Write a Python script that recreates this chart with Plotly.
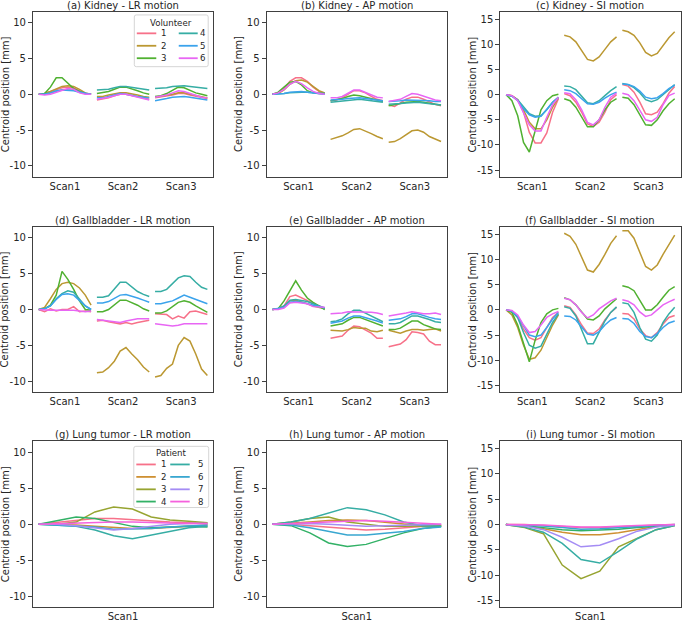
import plotly.graph_objects as go
from plotly.subplots import make_subplots

W, H = 682, 622

volunteers = ['1', '2', '3', '4', '5', '6']
patients = ['1', '2', '3', '4', '5', '6', '7', '8']
scans = ['Scan1', 'Scan2', 'Scan3']
phases = list(range(10))

colors6 = ['#f77189', '#bb9832', '#50b131', '#36ada4', '#3ba3ec', '#e866f4']
colors8 = ['#f77189', '#ce9032', '#97a431', '#32b166', '#36ada4', '#39a7d0', '#a48cf4', '#f561dd']

#%% volunteers: 3 scans x 10 phases per volunteer
kidney_lr = [
	[0, 0.1, 0.4, 0.7, 0.9, 1.0, 0.9, 0.5, 0.1, 0.0,
	 -0.8, -0.7, -0.5, -0.2, 0.0, 0.0, -0.2, -0.4, -0.6, -0.7,
	 -0.5, -0.4, -0.3, -0.1, 0.1, 0.1, -0.1, -0.3, -0.5, -0.6],
	[0, 0.1, 0.4, 0.8, 1.1, 1.2, 1.1, 0.7, 0.2, 0.0,
	 -0.3, -0.3, -0.1, 0.1, 0.2, 0.2, 0.1, -0.1, -0.3, -0.4,
	 -0.4, -0.3, -0.2, 0.0, 0.2, 0.2, 0.0, -0.2, -0.4, -0.5],
	[0, 0.1, 1.0, 2.3, 2.3, 1.5, 0.8, 0.4, 0.1, 0.0,
	 0.1, 0.2, 0.4, 0.7, 1.0, 1.0, 0.8, 0.5, 0.2, 0.0,
	 -0.3, -0.2, 0.1, 0.6, 1.0, 0.9, 0.5, 0.2, 0.0, -0.2],
	[0, 0.0, 0.2, 0.4, 0.6, 0.6, 0.6, 0.4, 0.1, 0.0,
	 0.6, 0.6, 0.7, 0.9, 1.1, 1.1, 1.0, 0.8, 0.7, 0.6,
	 0.8, 0.8, 0.9, 1.1, 1.2, 1.2, 1.1, 1.0, 0.9, 0.8],
	[0, 0.0, 0.2, 0.5, 0.6, 0.6, 0.5, 0.3, 0.1, 0.0,
	 -0.5, -0.5, -0.3, -0.1, 0.1, 0.0, -0.2, -0.3, -0.4, -0.5,
	 -0.9, -0.8, -0.6, -0.4, -0.3, -0.3, -0.4, -0.5, -0.7, -0.8],
	[0, -0.1, 0.0, 0.3, 0.6, 0.8, 0.7, 0.2, 0.0, 0.0,
	 -0.7, -0.6, -0.4, -0.2, 0.0, 0.0, -0.2, -0.4, -0.6, -0.8,
	 -0.4, -0.3, -0.1, 0.2, 0.5, 0.4, 0.1, -0.2, -0.4, -0.5],
]

kidney_ap = [
	[0, 0.2, 0.8, 1.8, 2.3, 2.3, 1.8, 1.0, 0.4, 0.1,
	 -0.9, -0.8, -0.5, 0.0, 0.5, 0.5, 0.2, -0.3, -0.7, -0.9,
	 -1.5, -1.7, -1.2, -0.7, -0.4, -0.4, -0.7, -1.1, -1.4, -1.6],
	[0, 0.1, 0.6, 1.4, 1.9, 2.0, 1.7, 1.1, 0.5, 0.2,
	 -6.3, -6.1, -5.8, -5.4, -4.9, -4.8, -5.1, -5.5, -5.9, -6.2,
	 -6.7, -6.6, -6.2, -5.7, -5.1, -5.0, -5.3, -5.9, -6.3, -6.6],
	[0, 0.3, 1.0, 1.7, 1.8, 1.3, 0.5, 0.2, 0.1, 0.1,
	 -0.9, -0.8, -0.6, -0.3, -0.1, -0.2, -0.4, -0.6, -0.8, -1.0,
	 -1.6, -1.5, -1.3, -1.1, -1.0, -1.0, -1.1, -1.3, -1.4, -1.5],
	[0, 0.0, 0.1, 0.2, 0.3, 0.3, 0.3, 0.2, 0.1, 0.1,
	 -1.1, -1.0, -0.9, -0.8, -0.7, -0.7, -0.8, -0.9, -1.0, -1.1,
	 -1.4, -1.4, -1.3, -1.2, -1.1, -1.1, -1.2, -1.3, -1.4, -1.5],
	[0, 0.0, 0.1, 0.3, 0.4, 0.4, 0.3, 0.2, 0.1, 0.0,
	 -0.8, -0.8, -0.7, -0.6, -0.5, -0.5, -0.6, -0.7, -0.8, -0.9,
	 -1.0, -1.0, -0.9, -0.8, -0.8, -0.8, -0.8, -0.9, -1.0, -1.0],
	[0, 0.2, 0.7, 1.4, 1.8, 1.5, 0.9, 0.4, 0.1, 0.0,
	 -0.5, -0.5, -0.3, 0.2, 0.6, 0.6, 0.3, -0.1, -0.4, -0.5,
	 -1.0, -0.9, -0.7, -0.3, 0.1, 0.0, -0.3, -0.6, -0.8, -0.9],
]

kidney_si = [
	[0, -0.2, -1.0, -3.5, -7.5, -9.6, -9.6, -7.6, -3.5, -0.8,
	 0.2, -0.2, -1.5, -3.5, -5.8, -6.3, -5.5, -3.5, -1.0, 0.0,
	 2.0, 1.7, 0.5, -1.5, -3.8, -4.0, -3.5, -1.8, 0.3, 1.6],
	[0, -0.2, -1.0, -3.0, -5.5, -6.8, -6.8, -5.0, -2.5, -0.6,
	 11.8, 11.5, 10.5, 8.8, 7.0, 6.7, 7.5, 9.0, 10.5, 11.5,
	 12.8, 12.5, 11.8, 10.3, 8.4, 7.7, 8.2, 9.8, 11.3, 12.5],
	[0, -1.2, -4.2, -9.5, -11.4, -7.0, -3.0, -1.2, -0.2, 0.1,
	 -0.8, -1.2, -2.5, -4.5, -6.4, -6.4, -5.0, -3.0, -1.5, -0.8,
	 -0.5, -0.7, -2.0, -4.0, -6.0, -6.1, -5.0, -3.2, -1.8, -0.8],
	[0, -0.3, -1.0, -2.5, -3.8, -4.3, -4.2, -3.0, -1.5, -0.5,
	 1.7, 1.6, 1.0, -0.2, -1.6, -1.8, -1.2, -0.2, 0.8, 1.6,
	 2.2, 2.0, 1.4, 0.4, -1.0, -1.4, -1.0, 0.0, 1.0, 2.0],
	[0, -0.3, -1.2, -2.8, -4.0, -4.5, -4.3, -3.0, -1.5, -0.6,
	 1.0, 0.8, 0.2, -0.8, -1.8, -1.9, -1.5, -0.7, 0.0, 0.5,
	 2.1, 2.0, 1.6, 0.7, -0.5, -0.8, -0.6, 0.2, 1.2, 1.9],
	[0, -0.2, -1.2, -3.5, -6.0, -7.2, -7.2, -4.5, -2.0, -0.5,
	 0.4, 0.2, -1.0, -3.0, -5.5, -6.0, -5.0, -2.5, -0.5, 0.3,
	 0.3, 0.0, -1.2, -3.0, -5.0, -5.3, -4.5, -2.0, -0.2, 0.3],
]

gall_lr = [
	[0, -0.3, 0.1, -0.2, 0.0, 0.0, 0.4, -0.3, -0.2, -0.3,
	 -1.6, -1.5, -1.7, -1.8, -2.0, -1.8, -2.0, -1.8, -1.6, -1.5,
	 -0.6, -0.6, -0.7, -1.3, -0.9, -1.2, -0.3, -0.2, -0.4, -0.7],
	[0, 0.3, 1.5, 2.8, 3.6, 3.8, 3.6, 3.0, 2.0, 0.6,
	 -8.8, -8.7, -8.1, -7.2, -5.8, -5.3, -6.2, -7.0, -8.0, -8.7,
	 -9.4, -9.2, -8.2, -7.6, -5.0, -3.9, -4.4, -6.2, -8.3, -9.2],
	[0, 0.1, 0.6, 2.0, 5.3, 4.2, 2.8, 1.2, 0.0, -0.1,
	 -0.3, -0.3, 0.0, 0.7, 1.3, 1.3, 1.0, 0.6, 0.1, -0.2,
	 -0.5, -0.5, -0.2, 0.4, 1.0, 1.2, 1.0, 0.5, 0.0, -0.4],
	[0, 0.1, 0.5, 1.5, 2.2, 2.6, 2.4, 1.5, 0.5, 0.0,
	 1.7, 1.7, 1.9, 2.9, 3.8, 3.8, 3.1, 2.5, 2.1, 1.8,
	 2.5, 2.5, 2.8, 3.6, 4.4, 4.7, 4.6, 3.8, 3.1, 2.8],
	[0, 0.1, 0.5, 1.4, 2.1, 2.2, 2.0, 1.3, 0.5, 0.0,
	 0.9, 0.9, 1.1, 1.6, 2.0, 2.1, 1.9, 1.6, 1.3, 1.0,
	 0.8, 0.8, 1.0, 1.2, 1.6, 2.0, 1.7, 1.4, 1.1, 0.8],
	[0, -0.1, -0.1, -0.1, -0.1, 0.0, -0.1, -0.2, -0.3, -0.2,
	 -1.4, -1.5, -1.7, -1.8, -1.8, -1.6, -1.4, -1.3, -1.3, -1.3,
	 -2.0, -2.1, -2.2, -2.3, -2.2, -2.0, -2.0, -2.0, -2.0, -2.0],
]

gall_ap = [
	[0, 0.1, 0.5, 1.8, 2.0, 1.6, 1.2, 0.8, 0.5, 0.1,
	 -4.0, -3.9, -3.7, -2.9, -2.3, -2.4, -2.8, -3.3, -4.0, -4.0,
	 -5.2, -5.0, -4.8, -4.2, -3.1, -3.2, -3.4, -4.4, -4.9, -4.9],
	[0, 0.1, 0.4, 1.2, 1.3, 1.1, 0.8, 0.5, 0.3, 0.1,
	 -2.9, -2.9, -3.0, -2.8, -2.5, -2.6, -2.6, -3.0, -3.1, -2.9,
	 -2.9, -3.1, -3.3, -3.0, -2.8, -2.8, -2.9, -2.8, -2.7, -3.0],
	[0, 0.1, 1.2, 2.6, 4.0, 2.7, 1.6, 1.0, 0.5, 0.0,
	 -2.3, -2.2, -2.0, -1.5, -1.1, -1.1, -1.4, -1.7, -2.0, -2.3,
	 -2.8, -2.8, -2.6, -2.1, -1.6, -1.6, -2.1, -2.4, -2.7, -2.8],
	[0, 0.1, 0.5, 1.3, 1.4, 1.3, 1.1, 0.8, 0.5, 0.2,
	 -1.7, -1.6, -1.3, -0.6, -0.1, -0.1, -0.5, -0.9, -1.3, -1.7,
	 -2.0, -2.0, -1.8, -1.3, -0.9, -0.9, -1.1, -1.4, -1.7, -1.8],
	[0, 0.1, 0.3, 1.0, 1.1, 1.0, 0.8, 0.5, 0.4, 0.2,
	 -1.9, -1.8, -1.6, -1.2, -0.9, -0.9, -1.1, -1.3, -1.6, -1.9,
	 -1.5, -1.4, -1.3, -1.0, -0.6, -0.6, -0.9, -1.1, -1.3, -1.4],
	[0, 0.0, 0.2, 0.9, 1.0, 0.9, 0.8, 0.4, 0.4, 0.3,
	 -0.6, -0.6, -0.5, -0.3, -0.3, -0.3, -0.4, -0.4, -0.5, -0.7,
	 -0.9, -0.8, -0.7, -0.5, -0.3, -0.5, -0.6, -0.6, -0.5, -0.7],
]

gall_si = [
	[0, -0.2, -1.5, -3.8, -5.5, -6.0, -5.5, -3.5, -1.5, -0.5,
	 0.8, 0.5, -1.0, -3.0, -4.6, -4.7, -3.8, -2.0, -0.5, 0.5,
	 -0.7, -0.8, -1.8, -3.8, -5.1, -5.5, -4.5, -2.8, -1.5, -1.1],
	[0, -1.0, -3.5, -7.0, -9.8, -9.5, -8.0, -5.5, -3.0, -1.0,
	 15.2, 14.6, 13.0, 10.5, 7.9, 7.5, 9.0, 11.0, 13.2, 14.7,
	 15.7, 15.7, 14.2, 11.5, 8.6, 7.9, 8.9, 11.0, 13.0, 14.8],
	[0, -0.5, -3.0, -6.8, -10.3, -6.0, -2.5, -0.8, 0.0, 0.3,
	 2.4, 2.0, 1.0, -0.5, -1.8, -2.0, -1.2, 0.2, 1.2, 2.2,
	 4.8, 4.5, 3.8, 1.8, 0.0, 0.0, 1.0, 2.5, 3.9, 4.6],
	[0, -0.3, -1.5, -4.5, -7.0, -7.6, -7.2, -5.0, -2.5, -0.8,
	 0.6, 0.3, -1.2, -3.8, -6.7, -6.7, -4.5, -2.2, -0.5, 0.6,
	 1.4, 1.2, -0.5, -3.5, -5.8, -6.2, -5.0, -2.5, -0.8, 0.5],
	[0, -0.2, -1.3, -3.3, -5.0, -5.3, -5.0, -3.5, -1.8, -0.5,
	 -1.2, -1.3, -2.0, -3.3, -4.8, -5.0, -4.3, -3.0, -2.0, -1.5,
	 -1.7, -1.8, -2.7, -4.3, -5.3, -5.5, -4.7, -3.5, -2.6, -2.2],
	[0, -0.1, -1.0, -3.0, -4.5, -4.3, -3.0, -1.5, -0.8, -0.3,
	 2.3, 2.0, 1.0, -0.5, -1.6, -1.0, 0.2, 1.0, 1.8, 2.3,
	 2.0, 1.7, 1.0, -0.4, -1.3, -1.0, 0.0, 1.0, 1.6, 2.1],
]

#%% lung tumor patients: one scan x 10 phases
lung_lr = [
	[0, 0.3, 0.6, 0.8, 0.8, 0.6, 0.5, 0.3, 0.2, 0.1],
	[0, 0.0, -0.1, -0.3, -0.5, -0.6, -0.6, -0.5, -0.3, -0.1],
	[0, 0.0, 0.3, 1.7, 2.4, 2.1, 1.0, 0.6, 0.4, 0.2],
	[0, 0.5, 1.0, 0.8, 0.2, -0.3, -0.5, -0.4, -0.3, -0.4],
	[0, -0.1, -0.3, -0.8, -1.6, -2.0, -1.5, -1.0, -0.5, -0.3],
	[0, -0.1, -0.2, -0.4, -0.7, -0.7, -0.6, -0.4, -0.2, -0.1],
	[0, 0.0, -0.2, -0.5, -0.8, -0.6, -0.3, 0.0, 0.1, 0.1],
	[0, 0.1, 0.2, 0.3, 0.3, 0.3, 0.2, 0.2, 0.1, 0.1],
]

lung_ap = [
	[0, 0.0, -0.2, -0.4, -0.7, -0.8, -0.7, -0.5, -0.3, -0.1],
	[0, 0.1, 0.3, 0.5, 0.6, 0.5, 0.3, 0.0, -0.2, -0.2],
	[0, 0.3, 0.8, 1.0, 0.3, 0.0, -0.3, -0.3, -0.3, -0.2],
	[0, -0.2, -1.2, -2.6, -3.1, -2.8, -2.0, -1.2, -0.6, -0.3],
	[0, 0.3, 0.8, 1.5, 2.3, 2.0, 1.3, 0.3, -0.2, -0.3],
	[0, -0.1, -0.5, -1.0, -1.5, -1.5, -1.3, -1.0, -0.6, -0.4],
	[0, 0.1, 0.1, 0.0, -0.2, -0.3, -0.2, -0.1, 0.0, 0.0],
	[0, 0.1, 0.3, 0.4, 0.5, 0.5, 0.4, 0.3, 0.1, 0.0],
]

lung_si = [
	[0, 0.0, -0.2, -0.4, -0.6, -0.6, -0.5, -0.3, -0.1, 0.0],
	[0, -0.3, -0.8, -1.5, -2.0, -2.0, -1.6, -1.0, -0.4, -0.1],
	[0, -0.6, -1.8, -8.0, -10.7, -9.2, -4.4, -2.7, -1.0, -0.2],
	[0, -0.2, -0.6, -1.0, -1.2, -1.1, -0.9, -0.6, -0.3, -0.1],
	[0, -0.5, -1.5, -3.7, -6.9, -7.6, -5.3, -2.8, -1.0, -0.2],
	[0, -0.1, -0.3, -0.6, -0.9, -0.8, -0.6, -0.4, -0.2, 0.0],
	[0, -0.3, -1.0, -2.5, -4.4, -4.1, -2.8, -1.3, -0.5, -0.1],
	[0, 0.0, -0.1, -0.3, -0.5, -0.5, -0.3, -0.2, -0.1, 0.0],
]

#%% layout in pixels of the 682x622 page
col_px = [(33, 213.5), (267, 447.5), (501, 681.5)]
row_px = [(12, 177.5), (228, 394), (443.5, 610)]

font = 'DejaVu Sans'
txt = '#262626'
frame = '#404040'

fig = make_subplots(rows=3, cols=3)

organ_panels = [
	(1, 1, '(a) Kidney - LR motion', kidney_lr, 'LR'),
	(1, 2, '(b) Kidney - AP motion', kidney_ap, 'AP'),
	(1, 3, '(c) Kidney - SI motion', kidney_si, 'SI'),
	(2, 1, '(d) Gallbladder - LR motion', gall_lr, 'LR'),
	(2, 2, '(e) Gallbladder - AP motion', gall_ap, 'AP'),
	(2, 3, '(f) Gallbladder - SI motion', gall_si, 'SI'),
]
lung_panels = [
	(3, 1, '(g) Lung tumor - LR motion', lung_lr, 'LR'),
	(3, 2, '(h) Lung tumor - AP motion', lung_ap, 'AP'),
	(3, 3, '(i) Lung tumor - SI motion', lung_si, 'SI'),
]

for row, col, title, data, direction in organ_panels:
	for v, series in enumerate(data):
		for s in range(len(scans)):
			fig.add_trace(go.Scatter(x=[s * 10 + p for p in phases], y=series[s * 10:(s + 1) * 10],
			                         mode='lines', line=dict(color=colors6[v], width=1.5),
			                         name=volunteers[v], showlegend=False, hoverinfo='skip'),
			              row=row, col=col)

for row, col, title, data, direction in lung_panels:
	for v, series in enumerate(data):
		fig.add_trace(go.Scatter(x=phases, y=series, mode='lines',
		                         line=dict(color=colors8[v], width=1.5),
		                         name=patients[v], showlegend=False, hoverinfo='skip'),
		              row=row, col=col)


def to_x(px):
	return px / W


def to_y(py):
	return 1 - py / H


for row, col, title, data, direction in organ_panels + lung_panels:
	x0, x1 = col_px[col - 1]
	y0, y1 = row_px[row - 1]
	if direction == 'SI':
		yt = [-15, -10, -5, 0, 5, 10, 15]
		yr = [-16.3, 16.45]
	else:
		yt = [-10, -5, 0, 5, 10]
		yr = [-11.5, 11.5]
	if row == 3:
		xt, xl, xr = [4.5], ['Scan1'], [-0.3, 9.3]
	else:
		xt, xl, xr = [4.5, 14.5, 24.5], scans, [-1, 30]
	axis_style = dict(showgrid=False, zeroline=False, showline=True, mirror=True,
	                  linecolor=frame, linewidth=1, tickfont=dict(family=font, size=10, color=txt))
	# no tick marks on x, short outward marks on y
	fig.update_xaxes(domain=[to_x(x0), to_x(x1)], range=xr, tickvals=xt, ticktext=xl,
	                 ticks='', row=row, col=col, **axis_style)
	fig.update_yaxes(domain=[to_y(y1), to_y(y0)], range=yr, tickvals=yt,
	                 ticktext=[str(t) for t in yt], ticks='outside', ticklen=4, tickcolor=frame,
	                 row=row, col=col, **axis_style)
	fig.add_annotation(x=to_x((x0 + x1) / 2), y=to_y(y0), xref='paper', yref='paper',
	                   text=title, showarrow=False, xanchor='center', yanchor='bottom',
	                   yshift=-1, font=dict(family=font, size=10, color=txt))
	fig.add_annotation(x=to_x(x0 - 28), y=to_y((y0 + y1) / 2), xref='paper', yref='paper',
	                   text='Centroid position [mm]', textangle=-90, showarrow=False,
	                   xanchor='center', yanchor='middle',
	                   font=dict(family=font, size=10, color=txt))


def add_legend(box, title, labels, colors, nrows, title_y, row_ys, col_lines, col_text):
	bx0, by0, bx1, by1 = box
	r = 2
	path = ('M {a},{b} L {c},{b} Q {d},{b} {d},{e} L {d},{f} Q {d},{g} {c},{g} '
	        'L {a},{g} Q {h},{g} {h},{f} L {h},{e} Q {h},{b} {a},{b} Z').format(
		a=to_x(bx0 + r), b=to_y(by0), c=to_x(bx1 - r), d=to_x(bx1), e=to_y(by0 + r),
		f=to_y(by1 - r), g=to_y(by1), h=to_x(bx0))
	fig.add_shape(type='path', path=path, xref='paper', yref='paper',
	              line=dict(color='#d5d5d5', width=1), fillcolor='rgba(255,255,255,0.8)')
	fig.add_annotation(x=to_x((bx0 + bx1) / 2), y=to_y(title_y), xref='paper', yref='paper',
	                   text=title, showarrow=False, xanchor='center', yanchor='middle',
	                   font=dict(family=font, size=8.6, color=txt))
	for i, lab in enumerate(labels):
		c = i // nrows
		ry = row_ys[i % nrows]
		lx0, lx1 = col_lines[c]
		fig.add_shape(type='line', x0=to_x(lx0), x1=to_x(lx1), y0=to_y(ry), y1=to_y(ry),
		              xref='paper', yref='paper', line=dict(color=colors[i], width=1.8))
		fig.add_annotation(x=to_x(col_text[c]), y=to_y(ry), xref='paper', yref='paper',
		                   text=lab, showarrow=False, xanchor='center', yanchor='middle',
		                   font=dict(family=font, size=8.6, color=txt))


add_legend((134.5, 15, 208.5, 67), 'Volunteer', volunteers, colors6, 3, 23,
           [33.5, 46, 58.5], [(137, 156.5), (179, 198)], [164, 203])
add_legend((134, 448.5, 209, 510), 'Patient', patients, colors8, 4, 455,
           [466.7, 479.2, 491.7, 504], [(136.5, 156), (170.5, 190)], [163.5, 200.5])

fig.update_layout(width=W, height=H, margin=dict(l=0, r=0, t=0, b=0),
                  plot_bgcolor='white', paper_bgcolor='white', showlegend=False,
                  font=dict(family=font, size=10, color=txt))

# the page body has a default 8px margin, drop it so the figure sits at 0,0
fig.write_html("out.html", config={'displayModeBar': False},
               post_script="document.body.style.margin = '0';")
